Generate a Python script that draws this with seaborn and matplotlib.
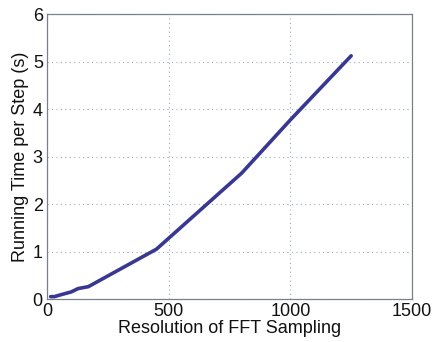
import matplotlib
matplotlib.use("Agg")
import matplotlib.pyplot as plt
import seaborn as sns
import pandas as pd

# FFT sampling resolution and measured running time per step
resolution = [15, 30, 64, 100, 128, 170, 450, 800, 1000, 1250]
run_time = [0.05, 0.05, 0.10, 0.15, 0.22, 0.26, 1.05, 2.65, 3.77, 5.12]

x_ticks = [0, 500, 1000, 1500]
y_ticks = [0, 1, 2, 3, 4, 5, 6]

sns.set_style("white")
plt.rcParams["font.family"] = ["Liberation Sans", "DejaVu Sans"]

df = pd.DataFrame({"resolution": resolution, "time": run_time})

fig = plt.figure(figsize=(4.33, 3.42), dpi=100)
ax = fig.add_axes([0.1085, 0.1257, 0.843, 0.8333])

sns.lineplot(data=df, x="resolution", y="time", ax=ax, color="#383892",
             linewidth=2.6, solid_capstyle="round", solid_joinstyle="round")

ax.set_xlim(0, 1500)
ax.set_ylim(0, 6)
ax.set_xticks(x_ticks)
ax.set_yticks(y_ticks)
ax.grid(True, linestyle=(0, (1, 3)), color="#9aaabd", linewidth=0.8)
for s in ax.spines.values():
    s.set_visible(True)
    s.set_color("#7a8088")
    s.set_linewidth(0.9)
ax.tick_params(direction="in", length=3, labelsize=13, colors="#7a8088",
               labelcolor="#111111", pad=3)
ax.set_xlabel("Resolution of FFT Sampling", fontsize=13, labelpad=0, color="#111111")
ax.set_ylabel("Running Time per Step (s)", fontsize=13, labelpad=3, color="#111111")

fig.savefig("out.png", dpi=100)
